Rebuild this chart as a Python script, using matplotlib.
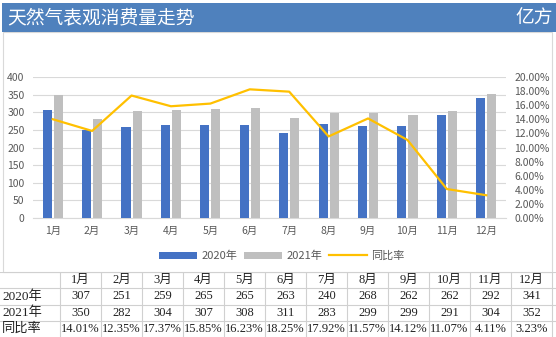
import matplotlib.pyplot as plt
import numpy as np
from matplotlib.patches import Rectangle
from matplotlib.ticker import FuncFormatter, MultipleLocator

plt.rcParams['font.family'] = ['Noto Sans CJK SC', 'DejaVu Sans']

# data
months = ['1月', '2月', '3月', '4月', '5月', '6月', '7月', '8月', '9月', '10月', '11月', '12月']
y2020 = [307, 251, 259, 265, 265, 263, 240, 268, 262, 262, 292, 341]
y2021 = [350, 282, 304, 307, 308, 311, 283, 299, 299, 291, 304, 352]
yoy = [14.01, 12.35, 17.37, 15.85, 16.23, 18.25, 17.92, 11.57, 14.12, 11.07, 4.11, 3.23]

blue = '#4472C4'
gray = '#BFBFBF'
gold = '#FFC000'
txt = '#595959'

W, H = 556, 337
fig = plt.figure(figsize=(W / 100, H / 100), dpi=100)

# frame of chart area and title bar
fig.patches.append(Rectangle((3 / W, 1 - 272 / H), 549 / W, 240 / H, transform=fig.transFigure,
                             facecolor='none', edgecolor='#D9D9D9', lw=0.8, zorder=-1))
fig.patches.append(Rectangle((2 / W, 1 - 32 / H), 554 / W, 29 / H, transform=fig.transFigure,
                             facecolor='#4F81BD', edgecolor='none', zorder=1))
fig.text(7 / W, 1 - 18 / H, '天然气表观消费量走势', color='white', fontsize=13.5,
         va='center', ha='left')
fig.text(553 / W, 1 - 18 / H, '亿方', color='white', fontsize=13.5, va='center', ha='right')

# main chart
ax = fig.add_axes([33 / W, 1 - 218 / H, 473 / W, 141 / H])
ax.patch.set_alpha(0)
x = np.arange(len(months))
bw = 0.23
ax.bar(x - 0.14, y2020, bw, color=blue, label='2020年', zorder=3)
ax.bar(x + 0.14, y2021, bw, color=gray, label='2021年', zorder=3)
ax.set_xlim(-0.5, len(months) - 0.5)
ax.set_ylim(0, 400)
ax.yaxis.set_major_locator(MultipleLocator(50))
ax.grid(axis='y', color='#D9D9D9', lw=0.8, zorder=0)
ax.set_axisbelow(True)
ax.set_xticks(x)
ax.set_xticklabels(months)
for s in ['top', 'right', 'left']:
    ax.spines[s].set_visible(False)
ax.spines['bottom'].set_color('#D9D9D9')
ax.tick_params(length=0, labelsize=7.5, colors=txt, pad=6)

ax2 = ax.twinx()
ln, = ax2.plot(x, np.array(yoy) / 100, color=gold, lw=1.6, label='同比率', zorder=4)
ax2.set_ylim(0, 0.2)
ax2.yaxis.set_major_locator(MultipleLocator(0.02))
ax2.yaxis.set_major_formatter(FuncFormatter(lambda v, p: f'{v:.2%}'))
for s in ax2.spines.values():
    s.set_visible(False)
ax2.tick_params(length=0, labelsize=7.5, colors=txt, pad=6)

h1, l1 = ax.get_legend_handles_labels()
fig.legend(h1 + [ln], l1 + ['同比率'], loc='center', bbox_to_anchor=(282 / W, 1 - 256 / H),
           ncol=3, frameon=False, fontsize=8, labelcolor=txt, handlelength=3.4,
           handleheight=0.6, columnspacing=0.6, handletextpad=0.4)

# table below
tax = fig.add_axes([0, 0, 1, 65 / H])
tax.set_xlim(0, W)
tax.set_ylim(4, 0)
tax.axis('off')
first, cw = 60, 41
edges = [first + cw * i for i in range(len(months) + 1)]
for e in edges:
    tax.axvline(e, color='#D0D0D0', lw=0.8)
for r in range(4):
    tax.axhline(r, color='#D0D0D0', lw=0.8)

tfont = dict(family=['Liberation Serif', 'Noto Sans CJK SC'], fontsize=9, color='#222222',
             va='center')
rows = [('2020年', [str(v) for v in y2020]),
        ('2021年', [str(v) for v in y2021]),
        ('同比率', [f'{v:.2f}%' for v in yoy])]
for i, m in enumerate(months):
    tax.text(first + cw * (i + 0.5), 0.5, m, ha='center', **tfont)
for r, (name, vals) in enumerate(rows, start=1):
    tax.text(2, r + 0.5, name, ha='left', fontsize=9.5,
             **{k: v for k, v in tfont.items() if k != 'fontsize'})
    for i, v in enumerate(vals):
        tax.text(first + cw * (i + 0.5), r + 0.5, v, ha='center', **tfont)

fig.savefig('out.png', dpi=100)
